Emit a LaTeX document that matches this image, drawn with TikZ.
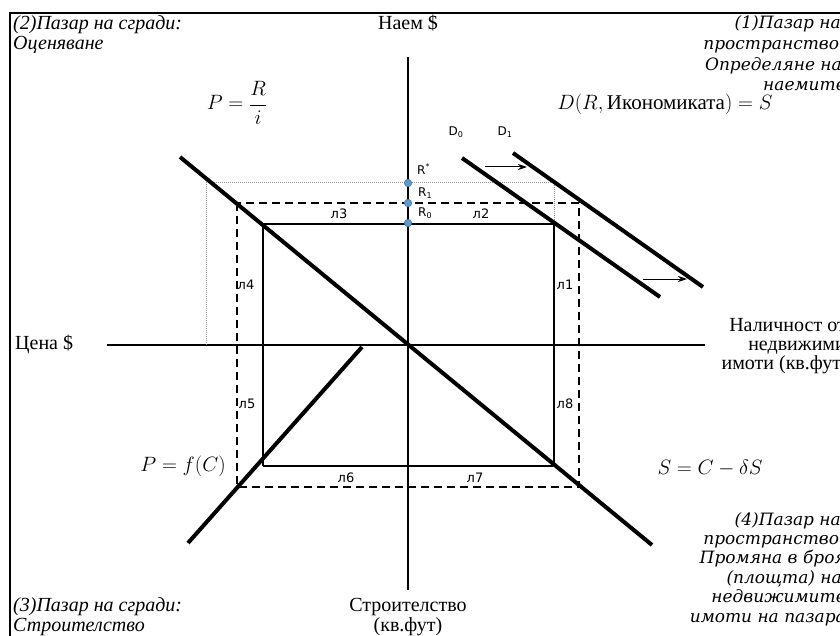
\documentclass[tikz,border=0pt]{standalone}
\usepackage{fontspec}
\setmainfont{Liberation Serif}
\newfontfamily\lblfont{DejaVu Sans}
\newfontfamily\rfont{DejaVu Serif}
\usetikzlibrary{arrows.meta}
\definecolor{dotblue}{RGB}{91,155,213}
\definecolor{dotedge}{RGB}{65,113,156}
\begin{document}
\begin{tikzpicture}[x=1pt,y=-1pt,
  txt/.style={font=\fontsize{20}{23}\selectfont, inner sep=0pt, text height=13pt, text depth=4pt},
  itx/.style={font=\fontsize{20}{23}\selectfont\itshape, inner sep=0pt, text height=13pt, text depth=4pt},
  rtx/.style={font=\rfont\fontsize{17}{20}\selectfont\itshape, inner sep=0pt, text height=12pt, text depth=4pt},
  mth/.style={font=\fontsize{21}{24}\selectfont, inner sep=0pt},
  lbl/.style={font=\lblfont\fontsize{13}{15}\selectfont, inner sep=0pt},
  sml/.style={font=\lblfont\fontsize{12}{14}\selectfont, inner sep=0pt},
  heavy/.style={line width=4pt},
  axis/.style={line width=1.5pt},
  dashrect/.style={line width=2.6pt, dash pattern=on 8pt off 5pt},
  dotrect/.style={gray!85, line width=1pt, dash pattern=on 1pt off 1pt},
  shift arrow/.style={-{Stealth[length=9pt,width=6pt]}, line width=1pt},
  rdot/.style={circle, fill=dotblue, draw=dotedge, line width=0.5pt, minimum size=7.5pt, inner sep=0pt}
]
\useasboundingbox (0,0) rectangle (840,636);
\fill[white] (0,0) rectangle (840,636);
% frame
\coordinate (fb) at (10,636);
\coordinate (fc) at (10,13);
\coordinate (fr) at (842,13);
\draw[line width=2.5pt] (fb) -- (fc) -- (fr);
% axes
\coordinate (O) at (408,345);
\coordinate (yt) at (408,57);
\coordinate (yb) at (408,590);
\coordinate (xl) at (107,345);
\coordinate (xr) at (705,345);
\draw[axis] (yt) -- (yb);
\draw[axis] (xl) -- (xr);
% dotted rectangle
\coordinate (d1) at (206,345);
\coordinate (d2) at (206,183);
\coordinate (d3) at (554,183);
\coordinate (d4) at (554,224);
\draw[dotrect] (d1) -- (d2) -- (d3) -- (d4);
% dashed rectangle
\coordinate (q1) at (237,203);
\coordinate (q2) at (579,487);
\draw[dashrect] (q1) rectangle (q2);
% solid rectangle
\coordinate (s1) at (263,224);
\coordinate (s2) at (554,224);
\coordinate (s3) at (554,466);
\coordinate (s4) at (263,466);
\draw[line width=1.3pt] (s1) -- (s2);
\draw[line width=1.3pt] (s4) -- (s3);
\draw[line width=2pt] (s1) -- (s4);
\draw[line width=2pt] (s2) -- (s3);
% heavy lines
\coordinate (a1) at (180,157);
\coordinate (a2) at (652,545);
\draw[heavy] (a1) -- (a2);
\coordinate (c1) at (188,543);
\coordinate (c2) at (362,347);
\draw[heavy] (c1) -- (c2);
\coordinate (D0a) at (462,158);
\coordinate (D0b) at (660,297);
\draw[heavy] (D0a) -- (D0b);
\coordinate (D1a) at (513,153);
\coordinate (D1b) at (703,287);
\draw[heavy] (D1a) -- (D1b);
% shift arrows
\coordinate (ar1) at (485,167);
\coordinate (ar2) at (527,167);
\draw[shift arrow] (ar1) -- (ar2);
\coordinate (ar3) at (643,279);
\coordinate (ar4) at (687,279);
\draw[shift arrow] (ar3) -- (ar4);
% dots
\node[rdot] (Rs) at (408,183) {};
\node[rdot] (R1) at (408,203) {};
\node[rdot] (R0) at (408,223) {};
\node[sml, anchor=west] (lRs) at (417,169) {R\textsuperscript{*}};
\node[sml, anchor=west] (lR1) at (418,193) {R\textsubscript{1}};
\node[sml, anchor=west] (lR0) at (418,213) {R\textsubscript{0}};
\node[sml] (lD0) at (456,132) {D\textsubscript{0}};
\node[sml] (lD1) at (505,132) {D\textsubscript{1}};
% segment labels
\node[lbl] (l3) at (339,214) {л3};
\node[lbl] (l2) at (481,214) {л2};
\node[lbl] (l4) at (246,285) {л4};
\node[lbl] (l1) at (565,285) {л1};
\node[lbl] (l5) at (247,404) {л5};
\node[lbl] (l8) at (565,404) {л8};
\node[lbl] (l6) at (346,478) {л6};
\node[lbl] (l7) at (475,478) {л7};
% texts
\node[itx, anchor=west] (t2a) at (13,25) {(2)Пазар на сгради:};
\node[itx, anchor=west] (t2b) at (13,45) {Оценяване};
\node[txt] (ty) at (408,25) {Наем \$};
\node[mth] (PR) at (237,103) {$\displaystyle P=\frac{R}{i}$};
\node[rtx, anchor=east] (t1a) at (841,25) {(1)Пазар на};
\node[rtx, anchor=east] (t1b) at (845,46) {пространство:};
\node[rtx, anchor=east] (t1c) at (842,67) {Определяне на};
\node[rtx, anchor=east] (t1d) at (846,87) {наемите};
\node[mth] (DR) at (665,104) {$D(R,\mbox{Икономиката})=S$};
\node[txt, anchor=west] (tx) at (15,345) {Цена \$};
\node[txt, anchor=east] (tn1) at (846,327) {Наличност от};
\node[txt, anchor=east] (tn2) at (846,346) {недвижими};
\node[txt, anchor=east] (tn3) at (848,365) {имоти (кв.фут)};
\node[mth] (PC) at (183,466) {$P=f(C)$};
\node[mth] (SC) at (710,468) {$S=C-\delta S$};
\node[rtx, anchor=east] (t4a) at (841,521) {(4)Пазар на};
\node[rtx, anchor=east] (t4b) at (845,540) {пространство:};
\node[rtx, anchor=east] (t4c) at (846,559) {Промяна в броя};
\node[rtx, anchor=east] (t4d) at (842,579) {(площта) на};
\node[rtx, anchor=east] (t4e) at (846,598) {недвижимите};
\node[rtx, anchor=east] (t4f) at (846,618) {имоти на пазара};
\node[itx, anchor=west] (t3a) at (13,607) {(3)Пазар на сгради:};
\node[itx, anchor=west] (t3b) at (13,627) {Строителство};
\node[txt] (tc1) at (408,607) {Строителство};
\node[txt] (tc2) at (408,627) {(кв.фут)};
\end{tikzpicture}
\end{document}
